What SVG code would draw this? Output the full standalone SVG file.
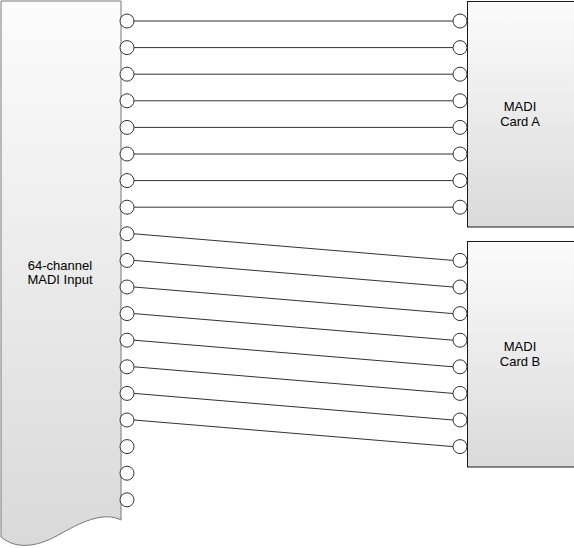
<svg xmlns="http://www.w3.org/2000/svg" width="574" height="548" viewBox="0 0 574 548">
  <defs>
    <linearGradient id="gLeft" x1="0" y1="0" x2="0" y2="1">
      <stop offset="0" stop-color="#fcfcfc"/>
      <stop offset="1" stop-color="#d9d9d9"/>
    </linearGradient>
    <linearGradient id="gCard" x1="0" y1="0" x2="0" y2="1">
      <stop offset="0" stop-color="#fbfbfb"/>
      <stop offset="1" stop-color="#dadada"/>
    </linearGradient>
  </defs>
  <style>
    .port { fill: #ffffff; stroke: #333333; stroke-width: 1; }
    .wire { fill: none; stroke: #333333; stroke-width: 1; }
    .card { fill: url(#gCard); stroke: #1a1a1a; stroke-width: 1; }
    .lbl { font-family: "Liberation Sans", Arial, Helvetica, sans-serif; font-size: 13px; fill: #000000; text-anchor: middle; }
  </style>
  <rect width="574" height="548" fill="#ffffff"/>

  <g id="madi-input">
    <path d="M1,1 H121 V520 C105,512 85,520 62,533 C40,546 18,551 1,537 Z" fill="url(#gLeft)" stroke="#777777" stroke-width="1"/>
    <text class="lbl" x="60" y="269.5">64-channel</text>
    <text class="lbl" x="60" y="283.5">MADI Input</text>
    <g id="input-ports">
      <circle class="port" cx="127" cy="21" r="7"/>
      <circle class="port" cx="127" cy="47.6" r="7"/>
      <circle class="port" cx="127" cy="74.2" r="7"/>
      <circle class="port" cx="127" cy="100.8" r="7"/>
      <circle class="port" cx="127" cy="127.4" r="7"/>
      <circle class="port" cx="127" cy="154" r="7"/>
      <circle class="port" cx="127" cy="180.6" r="7"/>
      <circle class="port" cx="127" cy="207.2" r="7"/>
      <circle class="port" cx="127" cy="233.8" r="7"/>
      <circle class="port" cx="127" cy="260.4" r="7"/>
      <circle class="port" cx="127" cy="287" r="7"/>
      <circle class="port" cx="127" cy="313.6" r="7"/>
      <circle class="port" cx="127" cy="340.2" r="7"/>
      <circle class="port" cx="127" cy="366.8" r="7"/>
      <circle class="port" cx="127" cy="393.4" r="7"/>
      <circle class="port" cx="127" cy="420" r="7"/>
      <circle class="port" cx="127" cy="446.6" r="7"/>
      <circle class="port" cx="127" cy="473.2" r="7"/>
      <circle class="port" cx="127" cy="499.8" r="7"/>
    </g>
  </g>

  <g id="card-a">
    <rect class="card" x="467.5" y="1.5" width="130" height="225.5"/>
    <text class="lbl" x="520" y="110.5">MADI</text>
    <text class="lbl" x="520" y="125.5">Card A</text>
    <g id="card-a-ports">
      <circle class="port" cx="460" cy="21" r="7"/>
      <circle class="port" cx="460" cy="47.6" r="7"/>
      <circle class="port" cx="460" cy="74.2" r="7"/>
      <circle class="port" cx="460" cy="100.8" r="7"/>
      <circle class="port" cx="460" cy="127.4" r="7"/>
      <circle class="port" cx="460" cy="154" r="7"/>
      <circle class="port" cx="460" cy="180.6" r="7"/>
      <circle class="port" cx="460" cy="207.2" r="7"/>
    </g>
  </g>

  <g id="card-b">
    <rect class="card" x="467.5" y="241.5" width="130" height="225.5"/>
    <text class="lbl" x="520" y="350.7">MADI</text>
    <text class="lbl" x="520" y="366">Card B</text>
    <g id="card-b-ports">
      <circle class="port" cx="460" cy="260.4" r="7"/>
      <circle class="port" cx="460" cy="287" r="7"/>
      <circle class="port" cx="460" cy="313.6" r="7"/>
      <circle class="port" cx="460" cy="340.2" r="7"/>
      <circle class="port" cx="460" cy="366.8" r="7"/>
      <circle class="port" cx="460" cy="393.4" r="7"/>
      <circle class="port" cx="460" cy="420" r="7"/>
      <circle class="port" cx="460" cy="446.6" r="7"/>
    </g>
  </g>

  <g id="connectors">
    <line class="wire" x1="134" y1="21" x2="453" y2="21"/>
    <line class="wire" x1="134" y1="47.6" x2="453" y2="47.6"/>
    <line class="wire" x1="134" y1="74.2" x2="453" y2="74.2"/>
    <line class="wire" x1="134" y1="100.8" x2="453" y2="100.8"/>
    <line class="wire" x1="134" y1="127.4" x2="453" y2="127.4"/>
    <line class="wire" x1="134" y1="154" x2="453" y2="154"/>
    <line class="wire" x1="134" y1="180.6" x2="453" y2="180.6"/>
    <line class="wire" x1="134" y1="207.2" x2="453" y2="207.2"/>
    <line class="wire" x1="134" y1="233.8" x2="453" y2="260.4"/>
    <line class="wire" x1="134" y1="260.4" x2="453" y2="287"/>
    <line class="wire" x1="134" y1="287" x2="453" y2="313.6"/>
    <line class="wire" x1="134" y1="313.6" x2="453" y2="340.2"/>
    <line class="wire" x1="134" y1="340.2" x2="453" y2="366.8"/>
    <line class="wire" x1="134" y1="366.8" x2="453" y2="393.4"/>
    <line class="wire" x1="134" y1="393.4" x2="453" y2="420"/>
    <line class="wire" x1="134" y1="420" x2="453" y2="446.6"/>
  </g>
</svg>
